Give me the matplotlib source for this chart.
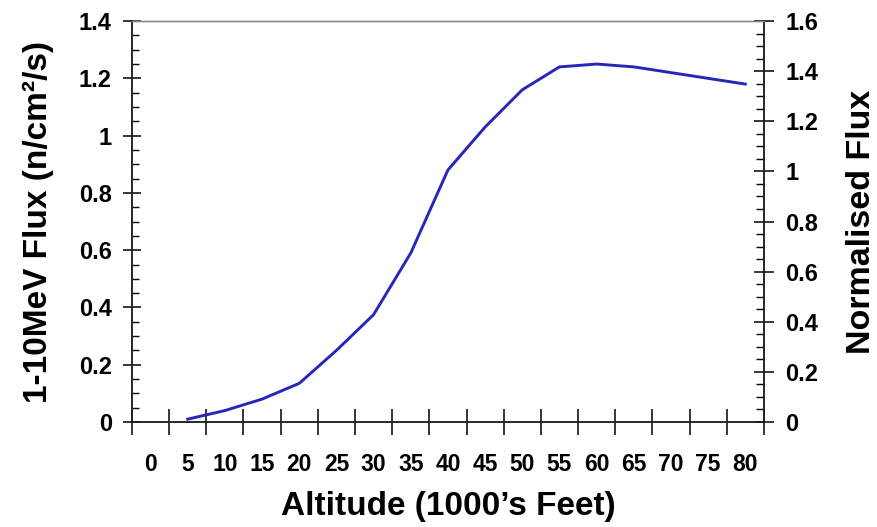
import numpy as np
import matplotlib.pyplot as plt
from matplotlib.ticker import FixedLocator, MultipleLocator, NullFormatter

plt.rcParams['font.family'] = ['Liberation Sans', 'DejaVu Sans']
plt.rcParams['font.weight'] = 'bold'
plt.rcParams['axes.labelweight'] = 'bold'

altitude = [5, 10, 15, 20, 25, 30, 35, 40, 45, 50, 55, 60, 65, 70, 75, 80]
flux = [0.01, 0.04, 0.08, 0.135, 0.25, 0.375, 0.59, 0.88, 1.03, 1.16, 1.24, 1.25,
        1.24, 1.22, 1.20, 1.18]
categories = [0, 5, 10, 15, 20, 25, 30, 35, 40, 45, 50, 55, 60, 65, 70, 75, 80]
norm_ref = 1.4 / 1.6   # flux that maps to a normalised value of 1

fig = plt.figure(figsize=(8.77, 5.27), dpi=100)
ax = fig.add_axes([0.1505, 0.1992, 0.7205, 0.7608])

ax.plot(altitude, flux, color='#2626b8', lw=2.1, solid_joinstyle='round')

# category style x axis: ticks on the boundaries, labels in the middle
ax.set_xlim(-2.5, 82.5)
ax.xaxis.set_major_locator(FixedLocator(np.arange(-2.5, 83, 5)))
ax.xaxis.set_major_formatter(NullFormatter())
ax.xaxis.set_minor_locator(FixedLocator(categories))
ax.set_xticklabels([str(c) for c in categories], minor=True)
ax.tick_params(axis='x', which='major', direction='inout', length=19, width=1.1)
ax.tick_params(axis='x', which='minor', length=0, pad=22, labelsize=16.5)

ax.set_ylim(0, 1.4)
ax.yaxis.set_major_locator(MultipleLocator(0.2))
ax.yaxis.set_minor_locator(MultipleLocator(0.05))
ax.set_yticks(np.arange(0, 1.41, 0.2))
ax.set_yticklabels(['0', '0.2', '0.4', '0.6', '0.8', '1', '1.2', '1.4'])
ax.tick_params(axis='y', which='major', direction='inout', length=13, width=1.1,
               pad=8, labelsize=17)
ax.tick_params(axis='y', which='minor', direction='in', length=5, width=1.0)

ax2 = ax.twinx()
ax2.set_ylim(0, 1.4 / norm_ref)
ax2.set_yticks(np.arange(0, 1.61, 0.2))
ax2.set_yticklabels(['0', '0.2', '0.4', '0.6', '0.8', '1', '1.2', '1.4', '1.6'])
ax2.yaxis.set_minor_locator(MultipleLocator(0.05))
ax2.tick_params(axis='y', which='major', direction='inout', length=15, width=1.1,
                pad=8, labelsize=17)
ax2.tick_params(axis='y', which='minor', direction='in', length=6, width=1.0)

for a in (ax, ax2):
    a.spines['top'].set_color('#8a8a8a')
    a.spines['top'].set_linewidth(1.0)
    for s in ('left', 'right', 'bottom'):
        a.spines[s].set_color('#222222')
        a.spines[s].set_linewidth(1.1)

ax.set_xlabel('Altitude (1000’s Feet)', fontsize=24, labelpad=11)
ax.set_ylabel('1-10MeV Flux (n/cm²/s)', fontsize=24, labelpad=18)
ax2.set_ylabel('Normalised Flux', fontsize=24.5, labelpad=20)

fig.savefig('out.png', dpi=100)
